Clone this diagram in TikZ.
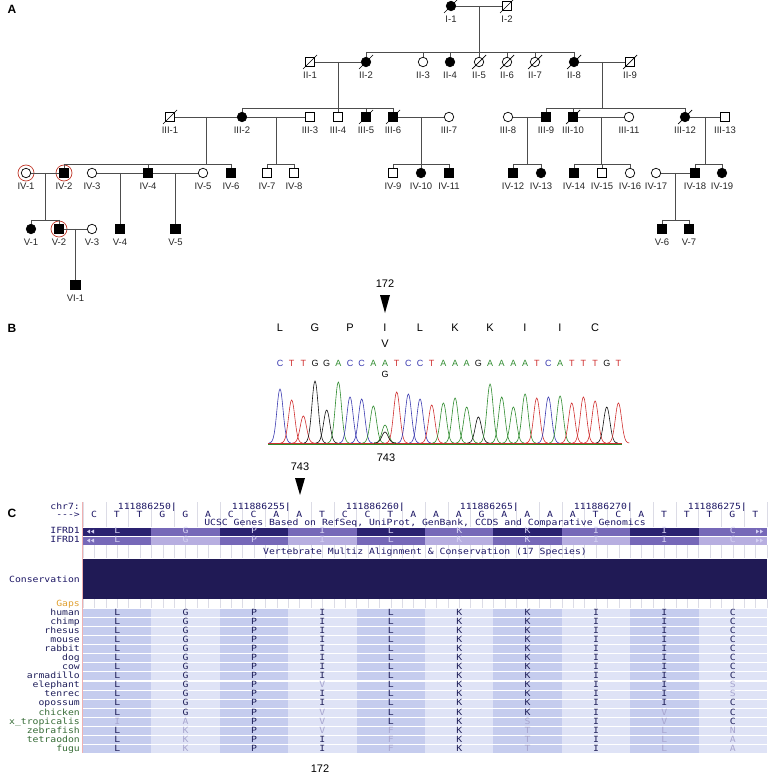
\documentclass[tikz,border=0pt]{standalone}
\usepackage{fontspec}
\setmainfont{Liberation Sans}
\newfontfamily\ucscfont{DejaVu Sans Mono}[FakeStretch=1.15]
\usetikzlibrary{calc}

\definecolor{pedline}{HTML}{4D4D4D}
\definecolor{ringred}{HTML}{C0392B}
\definecolor{baseA}{HTML}{2E8B2E}
\definecolor{baseC}{HTML}{3A3AB0}
\definecolor{baseG}{HTML}{111111}
\definecolor{baseT}{HTML}{D03030}
\definecolor{navy}{HTML}{1C1664}
\definecolor{conserv}{HTML}{201A55}
\definecolor{ifdark}{HTML}{2A2170}
\definecolor{ifmed}{HTML}{7668B8}
\definecolor{iflight}{HTML}{B7AEE0}
\definecolor{ifltr}{HTML}{D4D0F2}
\definecolor{coldark}{HTML}{C5CCEE}
\definecolor{collight}{HTML}{DFE3F6}
\definecolor{gridc}{HTML}{DCDCE6}
\definecolor{gapsor}{HTML}{E0A030}
\definecolor{spnavy}{HTML}{1E1E5A}
\definecolor{spgreen}{HTML}{356B35}
\definecolor{aan}{HTML}{20205A}
\definecolor{aag}{HTML}{A8A6CF}
\definecolor{pinkline}{HTML}{F0B0B0}

% one species row of the alignment
\newcommand{\sprow}[4]{%
  \node[mono, anchor=east, text=#3] (sp#1) at (80,613+9.07*#1) {#2};
  \foreach \a/\c [count=\k from 0] in {#4}
    \node[mono, text=aa\c] at (117.2+68.4*\k,613+9.07*#1) {\a};
}

\begin{document}
\begin{tikzpicture}[x=1pt, y=-1pt, label distance=5pt,
  ped/.style={draw=pedline, line width=0.8pt},
  ind/.style={draw=black, line width=0.7pt, inner sep=0pt, minimum size=9.5pt, fill=white},
  mu/.style={ind, rectangle},
  ma/.style={ind, rectangle, fill=black},
  fu/.style={ind, circle},
  fa/.style={ind, circle, fill=black},
  slash/.style={draw=black, line width=0.7pt},
  ring/.style={draw=ringred, line width=0.7pt},
  lbl/.style={font=\fontsize{9.5}{10}\selectfont, inner sep=0pt, text=black!85},
  panel/.style={font=\bfseries\fontsize{12}{12}\selectfont, inner sep=0pt},
  aa/.style={font=\fontsize{11}{12}\selectfont, inner sep=0pt},
  dna/.style={font=\fontsize{9}{10}\selectfont, inner sep=0pt},
  trace/.style={line width=0.6pt},
  mono/.style={font=\ucscfont\fontsize{8.5}{9}\selectfont, inner sep=0pt, text height=5.5pt, text depth=1pt},
  gridline/.style={draw=gridc, line width=0.4pt}]
\useasboundingbox (0,0) rectangle (767,775);

% ---------- A: pedigree ----------
\node[panel] (labA) at (12,9) {A};
\foreach \n/\s/\x/\y in {
  I-1/fa/451/6, I-2/mu/507/6,
  II-1/mu/310/62, II-2/fa/366/62, II-3/fu/423/62, II-4/fa/450/62, II-5/fu/479/62,
  II-6/fu/507/62, II-7/fu/535/62, II-8/fa/574/62, II-9/mu/630/62,
  III-1/mu/170/117, III-2/fa/242/117, III-3/mu/310/117, III-4/mu/338/117,
  III-5/ma/366/117, III-6/ma/393/117, III-7/fu/449/117, III-8/fu/508/117,
  III-9/ma/546/117, III-10/ma/573/117, III-11/fu/629/117, III-12/fa/685/117, III-13/mu/725/117,
  IV-1/fu/26/173, IV-2/ma/64/173, IV-3/fu/92/173, IV-4/ma/148/173, IV-5/fu/203/173,
  IV-6/ma/231/173, IV-7/mu/267/173, IV-8/mu/294/173, IV-9/mu/393/173, IV-10/fa/421/173,
  IV-11/ma/449/173, IV-12/ma/513/173, IV-13/fa/541/173, IV-14/ma/574/173, IV-15/mu/602/173,
  IV-16/fu/630/173, IV-17/fu/656/173, IV-18/ma/695/173, IV-19/fa/722/173,
  V-1/fa/31/229, V-2/ma/59/229, V-3/fu/92/229, V-4/ma/120/229, V-5/ma/175.5/229,
  V-6/ma/662/229, V-7/ma/689/229,
  VI-1/ma/75.5/285}
  \node[\s, label={[lbl]below:\n}] (\n) at (\x,\y) {};
% deceased
\foreach \n in {I-1,I-2,II-1,II-2,II-5,II-6,II-7,II-8,II-9,III-1,III-5,III-6,III-10,III-12}
  \draw[slash] ([shift={(-7,7)}]\n.center) -- ([shift={(7,-7)}]\n.center);
% sequenced
\foreach \n in {IV-1,IV-2,V-2}
  \draw[ring] (\n.center) circle[radius=8];

% generation I
\draw[ped] (I-1) -- (I-2);
\draw[ped] ($(I-1)!.5!(I-2)$) -- ++(0,46) coordinate (sI);
\draw[ped] (II-2 |- sI) -- (II-8 |- sI);
\foreach \c in {II-2,II-3,II-4,II-5,II-6,II-7,II-8} \draw[ped] (\c |- sI) -- (\c);
% generation II
\draw[ped] (II-1) -- (II-2);
\draw[ped] ($(II-1)!.5!(II-2)$) -- ++(0,46) coordinate (sA);
\draw[ped] (III-2 |- sA) -- (III-6 |- sA);
\foreach \c in {III-2,III-4,III-5,III-6} \draw[ped] (\c |- sA) -- (\c);
\draw[ped] (II-8) -- (II-9);
\draw[ped] ($(II-8)!.5!(II-9)$) -- ++(0,46) coordinate (sB);
\draw[ped] (III-9 |- sB) -- (III-12 |- sB);
\foreach \c in {III-9,III-10,III-12} \draw[ped] (\c |- sB) -- (\c);
% generation III
\draw[ped] (III-1) -- (III-2);
\draw[ped] ($(III-1)!.5!(III-2)$) -- ++(0,47) coordinate (sC);
\draw[ped] (IV-2 |- sC) -- (IV-6 |- sC);
\foreach \c in {IV-2,IV-4,IV-6} \draw[ped] (\c |- sC) -- (\c);
\draw[ped] (III-2) -- (III-3);
\draw[ped] ($(III-2)!.5!(III-3)$) -- ++(0,47) coordinate (sD);
\draw[ped] (IV-7 |- sD) -- (IV-8 |- sD);
\foreach \c in {IV-7,IV-8} \draw[ped] (\c |- sD) -- (\c);
\draw[ped] (III-6) -- (III-7);
\draw[ped] ($(III-6)!.5!(III-7)$) -- ++(0,47) coordinate (sE);
\draw[ped] (IV-9 |- sE) -- (IV-11 |- sE);
\foreach \c in {IV-9,IV-10,IV-11} \draw[ped] (\c |- sE) -- (\c);
\draw[ped] (III-8) -- (III-9);
\draw[ped] ($(III-8)!.5!(III-9)$) -- ++(0,47) coordinate (sF);
\draw[ped] (IV-12 |- sF) -- (IV-13 |- sF);
\foreach \c in {IV-12,IV-13} \draw[ped] (\c |- sF) -- (\c);
\draw[ped] (III-10) -- (III-11);
\draw[ped] ($(III-10)!.5!(III-11)$) -- ++(0,47) coordinate (sG);
\draw[ped] (IV-14 |- sG) -- (IV-16 |- sG);
\foreach \c in {IV-14,IV-15,IV-16} \draw[ped] (\c |- sG) -- (\c);
\draw[ped] (III-12) -- (III-13);
\draw[ped] ($(III-12)!.5!(III-13)$) -- ++(0,47) coordinate (sH);
\draw[ped] (IV-18 |- sH) -- (IV-19 |- sH);
\foreach \c in {IV-18,IV-19} \draw[ped] (\c |- sH) -- (\c);
% generation IV
\draw[ped] (IV-1) -- (IV-2);
\draw[ped] ($(IV-1)!.5!(IV-2)$) -- ++(0,47) coordinate (sJ);
\draw[ped] (V-1 |- sJ) -- (V-2 |- sJ);
\foreach \c in {V-1,V-2} \draw[ped] (\c |- sJ) -- (\c);
\draw[ped] (IV-3) -- (IV-4);
\draw[ped] (IV-4) -- (IV-5);
\draw[ped] ($(IV-3)!.5!(IV-4)$) -- (V-4);
\draw[ped] ($(IV-4)!.5!(IV-5)$) -- (V-5);
\draw[ped] (IV-17) -- (IV-18);
\draw[ped] ($(IV-17)!.5!(IV-18)$) -- ++(0,47) coordinate (sK);
\draw[ped] (V-6 |- sK) -- (V-7 |- sK);
\foreach \c in {V-6,V-7} \draw[ped] (\c |- sK) -- (\c);
% generation V
\draw[ped] (V-2) -- (V-3);
\draw[ped] ($(V-2)!.5!(V-3)$) -- (VI-1);

% ---------- B: sequence trace ----------
\node[panel] (labB) at (12,328) {B};
\node[aa] (pos172) at (385,284) {172};
\fill (380,295) -- (390,295) -- (385,313) -- cycle;
\foreach \a [count=\k from 0] in {L,G,P,I,L,K,K,I,I,C}
  \node[aa] (aa\k) at (280+35*\k,328) {\a};
\node[aa] (mutV) at (385,344) {V};
\foreach \b [count=\i from 0] in {C,T,T,G,G,A,C,C,A,A,T,C,C,T,A,A,A,G,A,A,A,A,T,C,A,T,T,T,G,T}
  \node[dna, text=base\b] (nt\i) at (280+11.67*\i,363) {\b};
\node[dna] (mutG) at (385,374) {G};
% chromatogram
\draw[baseA, line width=0.35pt] (268,444.3) -- (622,444.3);
\draw[baseT, line width=0.45pt] (268,443.6) -- (622,443.6);
\foreach \b/\h [count=\i from 0] in {C/54,T/43,T/27,G/62,G/33,A/61,C/46,C/44,A/37,A/18,
    T/51,C/49,C/44,T/38,A/40,A/45,A/36,G/26,A/59,A/46,
    A/36,A/49,T/45,C/46,A/47,T/40,T/46,T/42,G/36,T/40}
  \draw[trace, base\b] plot[domain=-11:11, samples=31, smooth]
    ({280+11.67*\i+\x},{443-\h*exp(-(\x/4.4)^2)});
\draw[trace, baseG] plot[domain=-11:11, samples=31, smooth] ({385+\x},{443-11*exp(-(\x/4.4)^2)});
\node[aa] (pos743) at (386,458) {743};

% ---------- C: conservation ----------
\node[panel] (labC) at (12,513) {C};
\node[aa] (mark743) at (300,467) {743};
\fill (295,478) -- (305,478) -- (300,495) -- cycle;
% grid of the white rows
\foreach \i in {0,...,30} \draw[gridline] (83+22.8*\i,502) -- ++(0,25);
\foreach \i in {0,...,60} {
  \draw[gridline] (83+11.4*\i,545) -- ++(0,13);
  \draw[gridline] (83+11.4*\i,599) -- ++(0,9);
}
\draw[pinkline, line width=0.6pt] (82,502) -- (82,753);
% ruler and bases
\node[mono, anchor=east, text=navy] (chr) at (80,507) {chr7:};
\node[mono, anchor=east, text=navy] (strand) at (80,515.5) {-{}-{}->};
\foreach \p [count=\m from 0] in {250,255,...,275}
  \node[mono, anchor=east, text=navy] at (177+114*\m,507) {111886\p|};
\foreach \b [count=\i from 0] in {C,T,T,G,G,A,C,C,A,A,T,C,C,T,A,A,A,G,A,A,A,A,T,C,A,T,T,T,G,T}
  \node[mono, text=navy] at (94+22.8*\i,515.5) {\b};
\node[mono, text=navy] (genes) at (425,523.5) {UCSC Genes Based on RefSeq, UniProt, GenBank, CCDS and Comparative Genomics};
% gene tracks
\foreach \k in {0,2,...,8} {
  \fill[ifdark] (83+68.4*\k,527.5) rectangle ++(68.4,8);
  \fill[ifmed] (83+68.4*\k,536.5) rectangle ++(68.4,8);
}
\foreach \k in {1,3,...,9} {
  \fill[ifmed] (83+68.4*\k,527.5) rectangle ++(68.4,8);
  \fill[iflight] (83+68.4*\k,536.5) rectangle ++(68.4,8);
}
\node[mono, anchor=east, text=navy] (gene1) at (80,531.5) {IFRD1};
\node[mono, anchor=east, text=navy] (gene2) at (80,540.5) {IFRD1};
\foreach \a [count=\k from 0] in {L,G,P,I,L,K,K,I,I,C} {
  \node[mono, text=ifltr] at (117.2+68.4*\k,531.5) {\a};
  \node[mono, text=ifltr] at (117.2+68.4*\k,540.5) {\a};
}
\foreach \y in {531.5,540.5}
  \foreach \dx in {0,4} {
    \fill[ifltr] (87+\dx,\y) -- ++(3,-2) -- ++(0,4) -- cycle;
    \fill[ifltr] (763-\dx,\y) -- ++(-3,-2) -- ++(0,4) -- cycle;
  }
% multiz
\node[mono, text=navy] (multiz) at (425,552) {Vertebrate Multiz Alignment \& Conservation (17 Species)};
\fill[conserv] (83,558.5) rectangle (767,599);
\node[mono, anchor=east, text=navy] (cons) at (80,580) {Conservation};
\node[mono, anchor=east, text=gapsor] (gaps) at (80,604) {Gaps};
\foreach \r in {0,...,15} {
  \foreach \k in {0,2,...,8} \fill[coldark] (83+68.4*\k,609+9.07*\r) rectangle ++(68.4,8);
  \foreach \k in {1,3,...,9} \fill[collight] (83+68.4*\k,609+9.07*\r) rectangle ++(68.4,8);
}
\sprow{0}{human}{spnavy}{L/n,G/n,P/n,I/n,L/n,K/n,K/n,I/n,I/n,C/n}
\sprow{1}{chimp}{spnavy}{L/n,G/n,P/n,I/n,L/n,K/n,K/n,I/n,I/n,C/n}
\sprow{2}{rhesus}{spnavy}{L/n,G/n,P/n,I/n,L/n,K/n,K/n,I/n,I/n,C/n}
\sprow{3}{mouse}{spnavy}{L/n,G/n,P/n,I/n,L/n,K/n,K/n,I/n,I/n,C/n}
\sprow{4}{rabbit}{spnavy}{L/n,G/n,P/n,I/n,L/n,K/n,K/n,I/n,I/n,C/n}
\sprow{5}{dog}{spnavy}{L/n,G/n,P/n,I/n,L/n,K/n,K/n,I/n,I/n,C/n}
\sprow{6}{cow}{spnavy}{L/n,G/n,P/n,I/n,L/n,K/n,K/n,I/n,I/n,C/n}
\sprow{7}{armadillo}{spnavy}{L/n,G/n,P/n,I/n,L/n,K/n,K/n,I/n,I/n,C/n}
\sprow{8}{elephant}{spnavy}{L/n,G/n,P/n,V/g,L/n,K/n,K/n,I/n,I/n,S/g}
\sprow{9}{tenrec}{spnavy}{L/n,G/n,P/n,I/n,L/n,K/n,K/n,I/n,I/n,S/g}
\sprow{10}{opossum}{spnavy}{L/n,G/n,P/n,I/n,L/n,K/n,K/n,I/n,I/n,C/n}
\sprow{11}{chicken}{spgreen}{L/n,G/n,P/n,V/g,L/n,K/n,K/n,I/n,V/g,C/n}
\sprow{12}{x\_tropicalis}{spgreen}{I/g,A/g,P/n,V/g,L/n,K/n,S/g,I/n,V/g,C/n}
\sprow{13}{zebrafish}{spgreen}{L/n,K/g,P/n,V/g,F/g,K/n,T/g,I/n,L/g,N/g}
\sprow{14}{tetraodon}{spgreen}{L/n,K/g,P/n,I/n,F/g,K/n,T/g,I/n,L/g,A/g}
\sprow{15}{fugu}{spgreen}{L/n,K/g,P/n,I/n,F/g,K/n,T/g,I/n,L/g,A/g}
\node[aa] (pos172b) at (320,769) {172};
\end{tikzpicture}
\end{document}
